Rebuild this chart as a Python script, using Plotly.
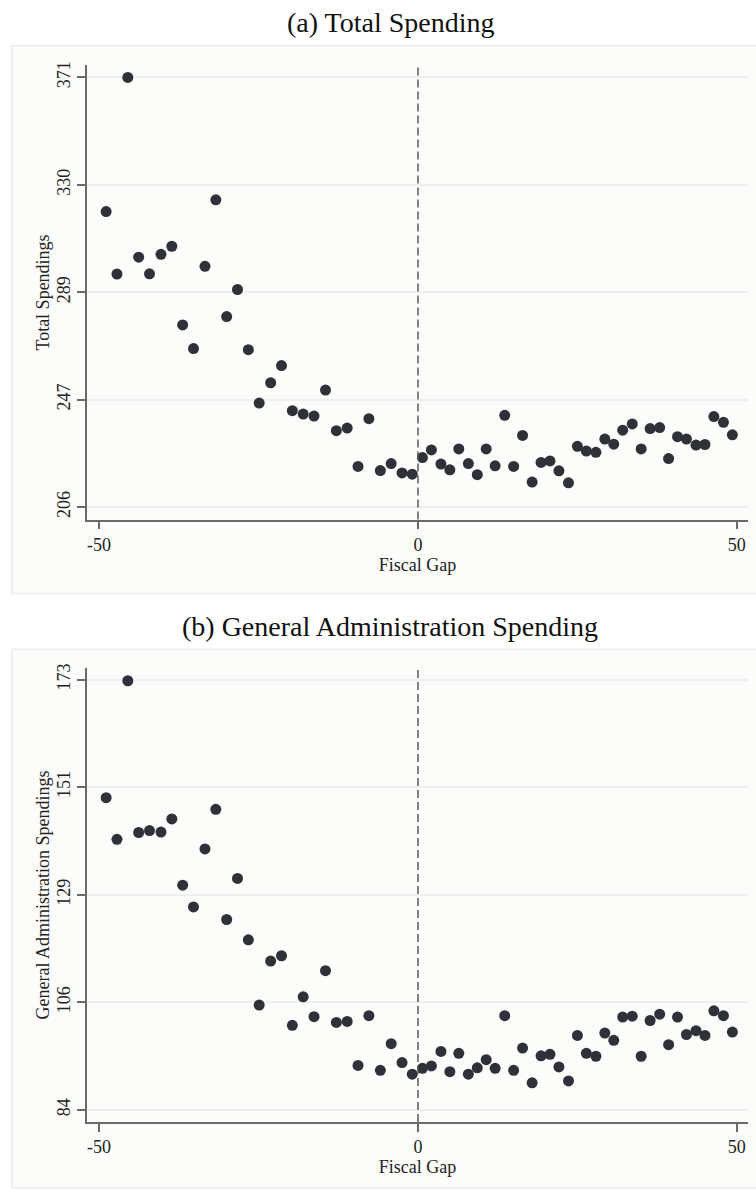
import plotly.graph_objects as go

# ---------------- data ----------------
x_left = [-48.9, -47.2, -45.5, -43.8, -42.1, -40.3, -38.6, -36.9, -35.2, -33.4,
          -31.7, -30.0, -28.3, -26.6, -24.9, -23.1, -21.4, -19.7, -18.0, -16.3,
          -14.5, -12.8, -11.1, -9.4, -7.7, -5.9, -4.2, -2.5, -0.9]
x_right = [0.7, 2.1, 3.6, 5.0, 6.4, 7.9, 9.3, 10.7, 12.1, 13.6,
           15.0, 16.4, 17.9, 19.3, 20.7, 22.1, 23.6, 25.0, 26.4, 27.9,
           29.3, 30.7, 32.1, 33.6, 35.0, 36.4, 37.9, 39.3, 40.7, 42.1,
           43.6, 45.0, 46.4, 47.9, 49.3]

total_left = [319.5, 295.5, 371.0, 302.0, 295.6, 303.1, 306.2, 276.0, 266.9, 298.5,
              324.0, 279.2, 289.6, 266.5, 246.0, 253.8, 260.4, 243.1, 241.8, 241.0,
              251.0, 235.4, 236.4, 221.7, 240.0, 220.1, 222.8, 219.2, 218.7]
total_right = [225.1, 228.0, 222.6, 220.4, 228.4, 222.8, 218.5, 228.4, 221.9, 241.3,
               221.7, 233.6, 215.7, 223.2, 223.8, 220.0, 215.4, 229.4, 227.6, 227.1,
               232.2, 230.2, 235.6, 238.0, 228.4, 236.2, 236.6, 224.7, 233.1, 232.2,
               229.9, 230.1, 240.8, 238.6, 233.8]

admin_left = [148.6, 140.0, 172.8, 141.4, 141.8, 141.5, 144.2, 130.5, 126.0, 138.0,
              146.2, 123.4, 131.9, 119.2, 105.7, 114.8, 115.9, 101.5, 107.4, 103.3,
              112.8, 102.1, 102.3, 93.2, 103.5, 92.2, 97.7, 93.8, 91.4]
admin_right = [92.6, 93.1, 96.1, 91.9, 95.7, 91.4, 92.7, 94.4, 92.6, 103.5,
               92.2, 96.8, 89.6, 95.2, 95.5, 92.9, 90.0, 99.4, 95.7, 95.1,
               99.9, 98.4, 103.2, 103.4, 95.1, 102.5, 103.8, 97.5, 103.2, 99.6,
               100.4, 99.4, 104.5, 103.5, 100.1]

x_ticks = [-50, 0, 50]
x_tick_labels = ["-50", "0", "50"]
y_ticks_a = [206, 247.25, 288.5, 329.75, 371]
y_tick_labels_a = ["206", "247", "289", "330", "371"]
y_ticks_b = [84, 106.25, 128.5, 150.75, 173]
y_tick_labels_b = ["84", "106", "129", "151", "173"]

titles = ["(a) Total Spending", "(b) General Administration Spending"]
y_titles = ["Total Spendings", "General Administration Spendings"]
x_title = "Fiscal Gap"

# ---------------- styling ----------------
W, H = 756, 1189
FONT = "Liberation Serif"
MARKER = "#2e3138"
AXIS = "#6a6a6a"
GRID = "#efeef1"
TXT = "#222222"


def py(px):
    return 1 - px / H


fig = go.Figure()

series = [
    (x_left + x_right, total_left + total_right, "x", "y"),
    (x_left + x_right, admin_left + admin_right, "x2", "y2"),
]
for xs, ys, xa, ya in series:
    fig.add_trace(go.Scatter(
        x=xs, y=ys, mode="markers", xaxis=xa, yaxis=ya,
        marker=dict(color=MARKER, size=11, line=dict(width=0)),
        showlegend=False, hoverinfo="x+y",
    ))

common_x = dict(
    range=[-51.9, 51.75], tickvals=x_ticks, ticktext=x_tick_labels,
    showgrid=False, zeroline=False, showline=True, linecolor=AXIS, linewidth=1.5,
    ticks="outside", ticklen=8, tickwidth=1.5, tickcolor=AXIS,
    ticklabelstandoff=0,
    tickfont=dict(family=FONT, size=18, color=TXT),
    title=dict(text=x_title, font=dict(family=FONT, size=18, color=TXT), standoff=0),
    domain=[87 / W, 748 / W],
)
common_y = dict(
    showgrid=True, gridcolor=GRID, gridwidth=1.5, zeroline=False,
    showline=True, linecolor=AXIS, linewidth=1.5,
    ticks="outside", ticklen=8, tickwidth=1.5, tickcolor=AXIS,
    tickangle=-90, ticklabelstandoff=0,
    tickfont=dict(family=FONT, size=18, color=TXT),
)

fig.update_layout(
    width=W, height=H,
    margin=dict(l=0, r=0, t=0, b=0),
    paper_bgcolor="white",
    plot_bgcolor="rgba(0,0,0,0)",
    xaxis=dict(common_x, anchor="y"),
    xaxis2=dict(common_x, anchor="y2"),
    yaxis=dict(common_y, range=[201.3, 375.6], tickvals=y_ticks_a, ticktext=y_tick_labels_a,
               domain=[py(516.7), py(60.7)], anchor="x",
               title=dict(text=y_titles[0], font=dict(family=FONT, size=18, color=TXT), standoff=0)),
    yaxis2=dict(common_y, range=[81.5, 175.4], tickvals=y_ticks_b, ticktext=y_tick_labels_b,
                domain=[py(1121.7), py(666)], anchor="x2",
                title=dict(text=y_titles[1], font=dict(family=FONT, size=18, color=TXT), standoff=0)),
    showlegend=False,
)

# panel background boxes
for top, bottom in [(41, 591), (647, 1188)]:
    fig.add_shape(type="rect", xref="paper", yref="paper",
                  x0=12 / W, x1=1.01, y0=py(bottom), y1=py(top),
                  fillcolor="#fcfcfb", line=dict(color="#ececec", width=1.5), layer="below")

# dashed cutoff line at zero
for xa, ya in [("x", "y"), ("x2", "y2")]:
    fig.add_shape(type="line", xref=xa, yref=f"{ya} domain", x0=0, x1=0, y0=0, y1=1,
                  line=dict(color="#5a5a5a", width=1.5, dash="8px,4px"), layer="above")

# panel titles
for t, ypix in zip(titles, [18, 624]):
    fig.add_annotation(text=t, xref="paper", yref="paper", x=390 / W, y=py(ypix),
                       xanchor="center", yanchor="middle", showarrow=False,
                       font=dict(family=FONT, size=28, color="#111111"))

fig.write_html("out.html")
